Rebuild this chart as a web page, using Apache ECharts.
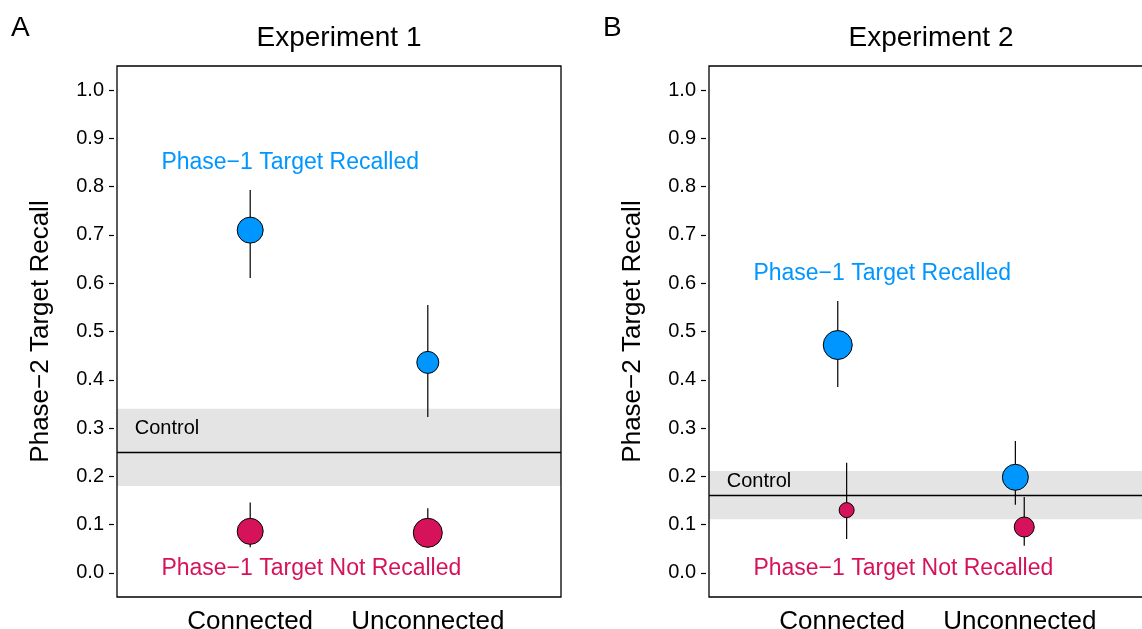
<!DOCTYPE html>
<html>
<head>
<meta charset="utf-8">
<script src="https://cdn.jsdelivr.net/npm/echarts@6/dist/echarts.min.js"></script>
<style>
  html, body { margin: 0; padding: 0; background: #fff; }
  #chart { width: 1142px; height: 629px; }
</style>
</head>
<body>
<div id="chart"></div>
<script>
// categories and ticks
var groups = ['Connected', 'Unconnected'];
var yTicks = [0, 0.1, 0.2, 0.3, 0.4, 0.5, 0.6, 0.7, 0.8, 0.9, 1.0];

// Experiment 1
var exp1Recalled      = [0.710, 0.436];
var exp1RecalledLo    = [0.611, 0.323];
var exp1RecalledHi    = [0.793, 0.555];
var exp1NotRecalled   = [0.086, 0.083];
var exp1NotRecalledLo = [0.053, 0.052];
var exp1NotRecalledHi = [0.146, 0.134];
var exp1Control       = 0.25;
var exp1ControlBand   = [0.18, 0.34];

// Experiment 2
var exp2Recalled      = [0.472, 0.198];
var exp2RecalledLo    = [0.385, 0.141];
var exp2RecalledHi    = [0.563, 0.273];
var exp2NotRecalled   = [0.130, 0.095];
var exp2NotRecalledLo = [0.070, 0.056];
var exp2NotRecalledHi = [0.228, 0.157];
var exp2Control       = 0.16;
var exp2ControlBand   = [0.111, 0.211];

// styles
var FONT = "'Liberation Sans', Arial, Helvetica, sans-serif";
var BLUE = '#0096ff';
var RED  = '#d6135a';
var exp1Size = { rec: [26, 22], not: [26, 29] };
var exp2Size = { rec: [29, 26], not: [15, 20] };

var chart = echarts.init(document.getElementById('chart'));

function errorBars(gi, xs, lo, hi) {
  var d = [];
  for (var i = 0; i < xs.length; i++) d.push([xs[i], lo[i], hi[i]]);
  return {
    type: 'custom', xAxisIndex: gi, yAxisIndex: gi, z: 3, silent: true,
    encode: { x: 0, y: [1, 2] },
    data: d,
    renderItem: function(params, api) {
      var p1 = api.coord([api.value(0), api.value(1)]);
      var p2 = api.coord([api.value(0), api.value(2)]);
      return { type: 'line', shape: { x1: p1[0], y1: p1[1], x2: p2[0], y2: p2[1] },
               style: { stroke: '#000', lineWidth: 1.2 } };
    }
  };
}

function dots(gi, xs, ys, sizes, color) {
  var d = [];
  for (var i = 0; i < xs.length; i++) d.push({ value: [xs[i], ys[i]], symbolSize: sizes[i] });
  return {
    type: 'scatter', xAxisIndex: gi, yAxisIndex: gi, z: 4, silent: true,
    symbol: 'circle',
    itemStyle: { color: color, borderColor: '#000', borderWidth: 1, opacity: 1 },
    data: d
  };
}

function labels(gi, items) {
  return {
    type: 'scatter', xAxisIndex: gi, yAxisIndex: gi, z: 5, silent: true,
    symbolSize: 0,
    itemStyle: { opacity: 1 },
    label: { show: true, position: 'right', distance: 0, fontFamily: FONT,
             formatter: function(p) { return p.name; } },
    data: items
  };
}

function panel(gi, rec, recLo, recHi, not, notLo, notHi, ctrl, band, off, size, recY, ctrlPos) {
  var xr = [1 - off, 2 - off];
  var xn = [1 + off, 2 + off];
  return [
    {
      type: 'line', xAxisIndex: gi, yAxisIndex: gi, z: 1, silent: true, data: [],
      markArea: { silent: true, itemStyle: { color: '#e4e4e4' },
                  data: [[{ yAxis: band[0] }, { yAxis: band[1] }]] },
      markLine: { silent: true, symbol: 'none', label: { show: false },
                  lineStyle: { color: '#000', width: 1.4, type: 'solid' },
                  data: [{ yAxis: ctrl }] }
    },
    errorBars(gi, xr, recLo, recHi),
    errorBars(gi, xn, notLo, notHi),
    dots(gi, xr, rec, size.rec, BLUE),
    dots(gi, xn, not, size.not, RED),
    labels(gi, [
      { name: 'Phase\u22121 Target Recalled', value: [0.5, recY], label: { color: BLUE, fontSize: 23 } },
      { name: 'Phase\u22121 Target Not Recalled', value: [0.5, 0.009], label: { color: RED, fontSize: 23 } },
      { name: 'Control', value: ctrlPos, label: { color: '#000', fontSize: 20 } }
    ])
  ];
}

function yAxis(gi) {
  return {
    gridIndex: gi, type: 'value', min: -0.05, max: 1.05, offset: 3,
    axisLine: { show: false },
    splitLine: { show: false },
    axisTick: { show: true, length: 5, customValues: yTicks, lineStyle: { color: '#000', width: 1.2 } },
    axisLabel: { customValues: yTicks, margin: 10, fontSize: 20, color: '#000', fontFamily: FONT,
                 formatter: function(v) { return v.toFixed(1); } },
    name: 'Phase\u22122 Target Recall', nameLocation: 'middle', nameGap: 60,
    nameTextStyle: { fontSize: 26, color: '#000', fontFamily: FONT }
  };
}

function xAxis(gi) {
  return {
    gridIndex: gi, type: 'value', min: 0.25, max: 2.75,
    axisLine: { show: false }, axisTick: { show: false }, splitLine: { show: false },
    axisLabel: { customValues: [1, 2], margin: 12, fontSize: 26, color: '#000', fontFamily: FONT,
                 formatter: function(v) { return groups[Math.round(v) - 1]; } }
  };
}

var option = {
  animation: false,
  backgroundColor: '#fff',
  grid: [
    { left: 117, top: 66, width: 444, height: 531, show: true, z: 10, outerBoundsMode: 'none',
      containLabel: false, backgroundColor: 'transparent', borderColor: '#000', borderWidth: 1.3 },
    { left: 709, top: 66, width: 444, height: 531, show: true, z: 10, outerBoundsMode: 'none',
      containLabel: false, backgroundColor: 'transparent', borderColor: '#000', borderWidth: 1.3 }
  ],
  xAxis: [xAxis(0), xAxis(1)],
  yAxis: [yAxis(0), yAxis(1)],
  graphic: [
    { type: 'text', left: 11, top: 14, style: { text: 'A', fontSize: 28, fill: '#000', fontFamily: FONT } },
    { type: 'text', left: 603, top: 14, style: { text: 'B', fontSize: 28, fill: '#000', fontFamily: FONT } },
    { type: 'text', x: 339, y: 38, style: { text: 'Experiment 1', fontSize: 28, fill: '#000', fontFamily: FONT,
      align: 'center', verticalAlign: 'middle' } },
    { type: 'text', x: 931, y: 38, style: { text: 'Experiment 2', fontSize: 28, fill: '#000', fontFamily: FONT,
      align: 'center', verticalAlign: 'middle' } }
  ],
  series: [].concat(
    panel(0, exp1Recalled, exp1RecalledLo, exp1RecalledHi, exp1NotRecalled, exp1NotRecalledLo, exp1NotRecalledHi,
          exp1Control, exp1ControlBand, 0, exp1Size, 0.849, [0.35, 0.30]),
    panel(1, exp2Recalled, exp2RecalledLo, exp2RecalledHi, exp2NotRecalled, exp2NotRecalledLo, exp2NotRecalledHi,
          exp2Control, exp2ControlBand, 0.025, exp2Size, 0.62, [0.35, 0.19])
  )
};

chart.setOption(option);
</script>
</body>
</html>
